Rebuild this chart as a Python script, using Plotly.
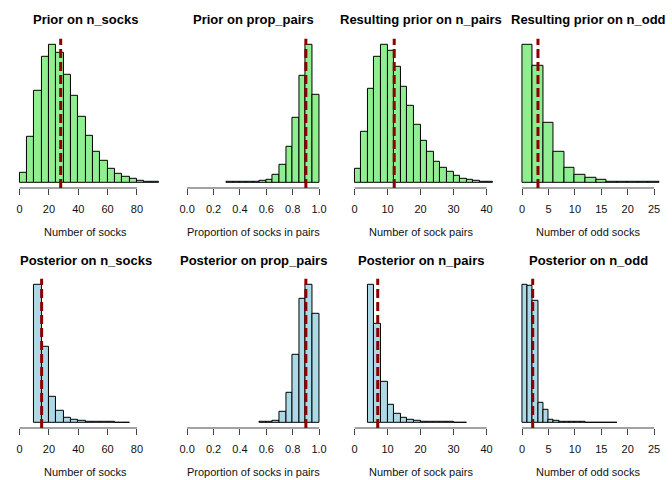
import plotly.graph_objects as go

# ---------------- data (bin left edges, bin width, relative counts) ----------------
titles = ["Prior on n_socks", "Prior on prop_pairs", "Resulting prior on n_pairs", "Resulting prior on n_odd",
          "Posterior on n_socks", "Posterior on prop_pairs", "Posterior on n_pairs", "Posterior on n_odd"]
xlabels = ["Number of socks", "Proportion of socks in pairs", "Number of sock pairs", "Number of odd socks"]

prior_n_socks_start, prior_n_socks_width = 0, 5
prior_n_socks = [28, 137, 275, 376, 414, 389, 323, 260, 197, 139, 92, 65, 42, 27, 17, 10, 6, 3, 2]

prior_prop_pairs_start, prior_prop_pairs_width = 0.30, 0.05
prior_prop_pairs = [1, 1, 1, 2, 2, 4, 9, 23, 53, 107, 195, 321, 414, 264]

prior_n_pairs_start, prior_n_pairs_width = 0, 2
prior_n_pairs = [41, 153, 282, 377, 414, 394, 346, 288, 231, 174, 126, 93, 62, 44, 31, 20, 12, 9, 5, 3, 2]

prior_n_odd_start, prior_n_odd_width = 0, 2
prior_n_odd = [412, 348, 179, 92, 45, 24, 13, 7, 3, 2, 1, 1, 1]

post_n_socks_start, post_n_socks_width = 10, 5
post_n_socks = [414, 228, 78, 34, 15, 7, 4, 2, 1, 1, 1, 0.5, 0.5]

post_prop_pairs_start, post_prop_pairs_width = 0.55, 0.05
post_prop_pairs = [1, 2, 6, 33, 90, 204, 370, 414, 327]

post_n_pairs_start, post_n_pairs_width = 4, 2
post_n_pairs = [414, 297, 122, 54, 25, 14, 7, 4, 2, 2, 1, 1, 1, 0.5, 0.5]

post_n_odd_start, post_n_odd_width = 0, 1
post_n_odd = [414, 410, 364, 59, 39, 8, 6, 3, 2, 1, 1, 1, 0.5, 0.5, 0.5, 0.5, 0.5, 0.5]

prior_medians = [28, 0.9, 12, 3]
post_medians = [15, 0.9, 7, 2]

tick_vals = [[0, 20, 40, 60, 80],
             [0, 0.2, 0.4, 0.6, 0.8, 1.0],
             [0, 10, 20, 30, 40],
             [0, 5, 10, 15, 20, 25]]
tick_text = [["0", "20", "40", "60", "80"],
             ["0.0", "0.2", "0.4", "0.6", "0.8", "1.0"],
             ["0", "10", "20", "30", "40"],
             ["0", "5", "10", "15", "20", "25"]]

panels = [
    (prior_n_socks_start, prior_n_socks_width, prior_n_socks, prior_medians[0]),
    (prior_prop_pairs_start, prior_prop_pairs_width, prior_prop_pairs, prior_medians[1]),
    (prior_n_pairs_start, prior_n_pairs_width, prior_n_pairs, prior_medians[2]),
    (prior_n_odd_start, prior_n_odd_width, prior_n_odd, prior_medians[3]),
    (post_n_socks_start, post_n_socks_width, post_n_socks, post_medians[0]),
    (post_prop_pairs_start, post_prop_pairs_width, post_prop_pairs, post_medians[1]),
    (post_n_pairs_start, post_n_pairs_width, post_n_pairs, post_medians[2]),
    (post_n_odd_start, post_n_odd_width, post_n_odd, post_medians[3]),
]

# ---------------- layout geometry (pixels) ----------------
W, H = 672, 480
COL_W = 168
REG_L, REG_R = 12, 162          # plot region inside a column
ZERO_PX = 17.7                  # pixel of first tick inside column
last_tick_px = [135.3, 150.0, 150.0, 150.0]
row_top = [38.8, 278.8]
row_bot = [188.0, 428.0]
title_y = [19.3, 260.0]
xlab_y = [231.7, 471.7]

FONT = "Liberation Sans, Arial, Helvetica, sans-serif"
fill_colors = ["#90EE90", "#ADD8E6"]
LINE_RED = "#8B0000"

fig = go.Figure()
layout = dict(width=W, height=H, margin=dict(l=0, r=0, t=0, b=0),
              paper_bgcolor="white", plot_bgcolor="white",
              showlegend=False, bargap=0, font=dict(family=FONT, color="black"))
shapes = []
annotations = []

for i, (start, width, counts, med) in enumerate(panels):
    row, col = divmod(i, 4)
    idx = i + 1
    xa = "x" if idx == 1 else f"x{idx}"
    ya = "y" if idx == 1 else f"y{idx}"
    centers = [start + width * (k + 0.5) for k in range(len(counts))]
    fig.add_trace(go.Bar(x=centers, y=counts, width=[width] * len(counts),
                         marker=dict(color=fill_colors[row], line=dict(color="black", width=1)),
                         xaxis=xa, yaxis=ya, hoverinfo="skip"))
    tv = tick_vals[col]
    k = (last_tick_px[col] - ZERO_PX) / (tv[-1] - tv[0])
    xr = [tv[0] + (REG_L - ZERO_PX) / k, tv[0] + (REG_R - ZERO_PX) / k]
    dom_x = [(col * COL_W + REG_L) / W, (col * COL_W + REG_R) / W]
    dom_y = [1 - row_bot[row] / H, 1 - row_top[row] / H]
    M = max(counts)
    layout["xaxis" if idx == 1 else f"xaxis{idx}"] = dict(
        domain=dom_x, range=xr, anchor=ya, showgrid=False, zeroline=False, showline=False,
        ticks="outside", ticklen=6, tickwidth=1, tickcolor="#444",
        tickvals=tv, ticktext=tick_text[col], tickfont=dict(size=11, color="#111", family=FONT),
        ticklabelstandoff=5, fixedrange=True)
    layout["yaxis" if idx == 1 else f"yaxis{idx}"] = dict(
        domain=dom_y, range=[-0.04 * M, 1.04 * M], anchor=xa, visible=False, fixedrange=True)
    shapes.append(dict(type="line", xref=xa, yref=f"{ya} domain", x0=tv[0], x1=tv[-1], y0=0, y1=0,
                       line=dict(color="#444", width=1)))
    shapes.append(dict(type="line", xref=xa, yref=f"{ya} domain", x0=med, x1=med, y0=0, y1=1,
                       line=dict(color=LINE_RED, width=3, dash="9px,4px")))
    cx = (col * COL_W + 84) / W
    annotations.append(dict(text=f"<b>{titles[i]}</b>", x=cx, y=1 - title_y[row] / H,
                            xref="paper", yref="paper", showarrow=False, xanchor="center",
                            yanchor="middle", font=dict(size=13, family=FONT, color="black")))
    annotations.append(dict(text=xlabels[col], x=cx, y=1 - xlab_y[row] / H,
                            xref="paper", yref="paper", showarrow=False, xanchor="center",
                            yanchor="middle", font=dict(size=11, family=FONT, color="#111")))

layout["shapes"] = shapes
layout["annotations"] = annotations
fig.update_layout(**layout)
fig.write_html("out.html", config={"displayModeBar": False},
               post_script="document.body.style.margin='0';document.body.style.padding='0';")
